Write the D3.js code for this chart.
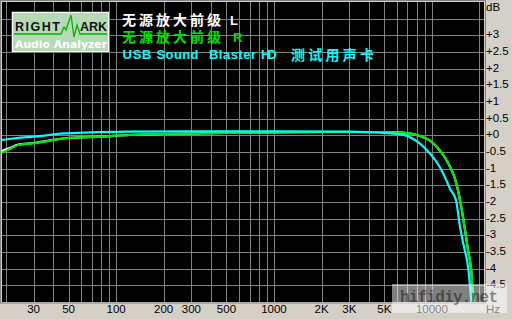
<!DOCTYPE html>
<html>
<head>
<meta charset="utf-8">
<script src="https://cdn.jsdelivr.net/npm/d3@7/dist/d3.min.js"></script>
<style>
  html, body { margin: 0; padding: 0; background: #d4d0c8; }
  svg { display: block; }
</style>
</head>
<body>
<svg id="chart" width="512" height="319"></svg>
<script>
// frequency axis ticks
var freqTicks = [30, 50, 100, 200, 300, 500, 1000, 2000, 3000, 5000, 10000];
var freqLabels = ["30", "50", "100", "200", "300", "500", "1000", "2K", "3K", "5K", "10000"];
var freqGrid = [20, 30, 40, 50, 60, 70, 80, 90, 100, 200, 300, 400, 500, 600, 700, 800, 900,
  1000, 2000, 3000, 4000, 5000, 6000, 7000, 8000, 9000, 10000, 20000];

// level axis ticks
var dbTicks = [3, 2.5, 2, 1.5, 1, 0.5, 0, -0.5, -1, -1.5, -2, -2.5, -3, -3.5, -4, -4.5];
var dbLabels = ["+3", "+2.5", "+2", "+1.5", "+1", "+0.5", "+0", "-0.5", "-1", "-1.5", "-2", "-2.5", "-3", "-3.5", "-4", "-4.5"];

// 无源放大前级 L (white, mostly under the green trace)
var whiteFreq = [18.9, 21, 24, 30, 35, 42, 49, 79, 122, 200, 500, 1000, 2000, 5000, 6560, 8410, 9730, 10720, 11810, 13020, 14200, 15060, 16100, 17000, 17700, 18300, 18700];
var whiteDb = [-0.47, -0.39, -0.28, -0.23, -0.18, -0.12, -0.08, -0.04, 0.01, 0.04, 0.07, 0.09, 0.1, 0.1, 0.08, -0.02, -0.16, -0.34, -0.59, -0.94, -1.39, -1.94, -2.74, -3.5, -4.0, -5.0, -5.6];

// 无源放大前级 R (green)
var greenFreq = [18.9, 21, 24, 30, 35, 42, 49, 79, 122, 200, 500, 1000, 2000, 5000, 6560, 8410, 9730, 10720, 11810, 13020, 14200, 15060, 16100, 17000, 17700, 18300, 18700];
var greenDb = [-0.52, -0.42, -0.29, -0.24, -0.19, -0.12, -0.08, -0.04, 0.01, 0.04, 0.07, 0.09, 0.1, 0.1, 0.08, -0.02, -0.16, -0.34, -0.59, -0.94, -1.39, -1.94, -2.74, -3.5, -4.0, -5.0, -5.6];

// USB Sound Blaster HD 测试用声卡 (cyan)
var cyanFreq = [18.9, 21, 25, 30, 35, 42, 49, 70, 122, 300, 1000, 3000, 4055, 5500, 6560, 7270, 8410, 9730, 10720, 11810, 13020, 14220, 15060, 16000, 17000, 17800, 18300];
var cyanDb = [-0.14, -0.11, -0.07, -0.04, -0.01, 0.04, 0.06, 0.09, 0.11, 0.12, 0.12, 0.11, 0.09, 0.06, 0.02, -0.06, -0.25, -0.55, -0.8, -1.15, -1.6, -1.95, -2.74, -3.36, -4.0, -5.0, -5.6];

var plot = {left: 2, right: 484, top: 2, bottom: 302};

var svg = d3.select("#chart");

var x = d3.scaleLog().domain([18.94, 21380]).range([plot.left, plot.right]);
var y = d3.scaleLinear().domain([4, -5]).range([plot.top, plot.bottom]);

// plot background
svg.append("rect")
  .attr("x", plot.left).attr("y", plot.top)
  .attr("width", plot.right - plot.left).attr("height", plot.bottom - plot.top)
  .attr("fill", "#000");
svg.append("rect")
  .attr("x", 0.5).attr("y", 0.5)
  .attr("width", plot.right + 1).attr("height", plot.bottom + 0.5)
  .attr("fill", "none").attr("stroke", "#808080");

var grid = svg.append("g").attr("shape-rendering", "crispEdges").attr("stroke", "#808080").attr("stroke-width", 1);

grid.selectAll("line.v").data(freqGrid).enter().append("line")
  .attr("x1", function(d) { return Math.round(x(d)) + 0.5; })
  .attr("x2", function(d) { return Math.round(x(d)) + 0.5; })
  .attr("y1", plot.top).attr("y2", plot.bottom);

var hLines = d3.range(3.5, -5, -0.5);
grid.selectAll("line.h").data(hLines).enter().append("line")
  .attr("y1", function(d) { return Math.round(y(d)) + 0.5; })
  .attr("y2", function(d) { return Math.round(y(d)) + 0.5; })
  .attr("x1", plot.left).attr("x2", plot.right);

// curves
svg.append("clipPath").attr("id", "clip").append("rect")
  .attr("x", plot.left).attr("y", plot.top)
  .attr("width", plot.right - plot.left).attr("height", plot.bottom - plot.top);

var line = d3.line()
  .x(function(d) { return x(d[0]); })
  .y(function(d) { return y(d[1]); })
  .curve(d3.curveMonotoneX);

var curves = svg.append("g").attr("clip-path", "url(#clip)");

function drawCurve(freqs, dbs, color) {
  curves.append("path")
    .datum(d3.zip(freqs, dbs))
    .attr("d", line)
    .attr("fill", "none")
    .attr("stroke", color)
    .attr("stroke-width", 2.2);
}
drawCurve(whiteFreq, whiteDb, "#ffffff");
drawCurve(greenFreq, greenDb, "#00e800");
drawCurve(cyanFreq, cyanDb, "#00ffff");

// bottom labels
var labelFont = "'Liberation Sans', Arial, sans-serif";
svg.append("g").selectAll("text").data(freqTicks).enter().append("text")
  .attr("x", function(d) { return x(d); })
  .attr("y", 313)
  .attr("text-anchor", "middle")
  .attr("font-family", labelFont).attr("font-size", 11.5)
  .attr("fill", "#000")
  .text(function(d, i) { return freqLabels[i]; });
svg.append("text").attr("x", 486).attr("y", 313)
  .attr("font-family", labelFont).attr("font-size", 11.5).attr("fill", "#000").text("Hz");

// right labels
svg.append("g").selectAll("text").data(dbTicks).enter().append("text")
  .attr("x", 486)
  .attr("y", function(d) { return y(d) + 3; })
  .attr("font-family", labelFont).attr("font-size", 11.5)
  .attr("fill", "#000")
  .text(function(d, i) { return dbLabels[i]; });
svg.append("text").attr("x", 486).attr("y", 11)
  .attr("font-family", labelFont).attr("font-size", 11.5).attr("fill", "#000").text("dB");

// RMAA logo
var logo = svg.append("g");
logo.append("rect").attr("x", 11.5).attr("y", 11.5).attr("width", 98).attr("height", 41)
  .attr("fill", "#808080");
logo.append("rect").attr("x", 12.5).attr("y", 12.5).attr("width", 96).attr("height", 39)
  .attr("fill", "#b6d9b6").attr("stroke", "#ffffff").attr("stroke-width", 1);
logo.append("polyline")
  .attr("points", "14,34 61,34 64,27 66,30 71,15 74,37 77,25 80,34 107,34")
  .attr("fill", "none").attr("stroke", "#00b400").attr("stroke-width", 1.3);
logo.append("text").attr("x", 15).attr("y", 31)
  .attr("font-family", labelFont).attr("font-weight", "bold").attr("font-size", 12.5)
  .attr("textLength", 45).attr("lengthAdjust", "spacing")
  .attr("fill", "#111").text("RIGHT");
logo.append("text").attr("x", 80).attr("y", 31)
  .attr("font-family", labelFont).attr("font-weight", "bold").attr("font-size", 12.5)
  .attr("textLength", 27).attr("lengthAdjust", "spacing")
  .attr("fill", "#111").text("ARK");
logo.append("text").attr("x", 15).attr("y", 48)
  .attr("font-family", "'DejaVu Sans', Verdana, sans-serif").attr("font-size", 11)
  .attr("font-weight", "bold")
  .attr("textLength", 92).attr("lengthAdjust", "spacingAndGlyphs")
  .attr("fill", "#ffffff").text("Audio Analyzer");

// legend
var cjk = "'Noto Sans CJK SC', sans-serif";
var legend = svg.append("g").attr("font-weight", "bold");
function legendText(txt, lx, ly, len, color, font, size) {
  legend.append("text").attr("x", lx).attr("y", ly)
    .attr("font-family", font).attr("font-size", size)
    .attr("textLength", len).attr("lengthAdjust", "spacing")
    .attr("fill", color).text(txt);
}
legendText("无源放大前级", 122, 25, 99, "#ffffff", cjk, 14);
legendText("L", 230, 25, 6, "#ffffff", labelFont, 13);
legendText("无源放大前级", 122, 41.5, 99, "#00e000", cjk, 14);
legendText("R", 233, 41.5, 7, "#00e000", labelFont, 13);
legendText("USB", 122.5, 59, 29, "#00ffff", labelFont, 13);
legendText("Sound", 156.5, 59, 42, "#00ffff", labelFont, 13);
legendText("Blaster", 209, 59, 47, "#00ffff", labelFont, 13);
legendText("HD", 261, 59, 16, "#00ffff", labelFont, 13);
legendText("测试用声卡", 291, 59.5, 83, "#00ffff", cjk, 14);

// watermark
svg.append("rect").attr("x", 392).attr("y", 284).attr("width", 115).attr("height", 29)
  .attr("fill", "#ffffff").attr("fill-opacity", 0.5);
svg.append("text").attr("x", 400).attr("y", 302)
  .attr("font-family", "'Liberation Mono', 'DejaVu Sans Mono', monospace")
  .attr("font-weight", "bold").attr("font-size", 16)
  .attr("textLength", 98).attr("lengthAdjust", "spacing")
  .attr("fill", "#000").attr("fill-opacity", 0.45).text("hifidiy.net");
</script>
</body>
</html>
